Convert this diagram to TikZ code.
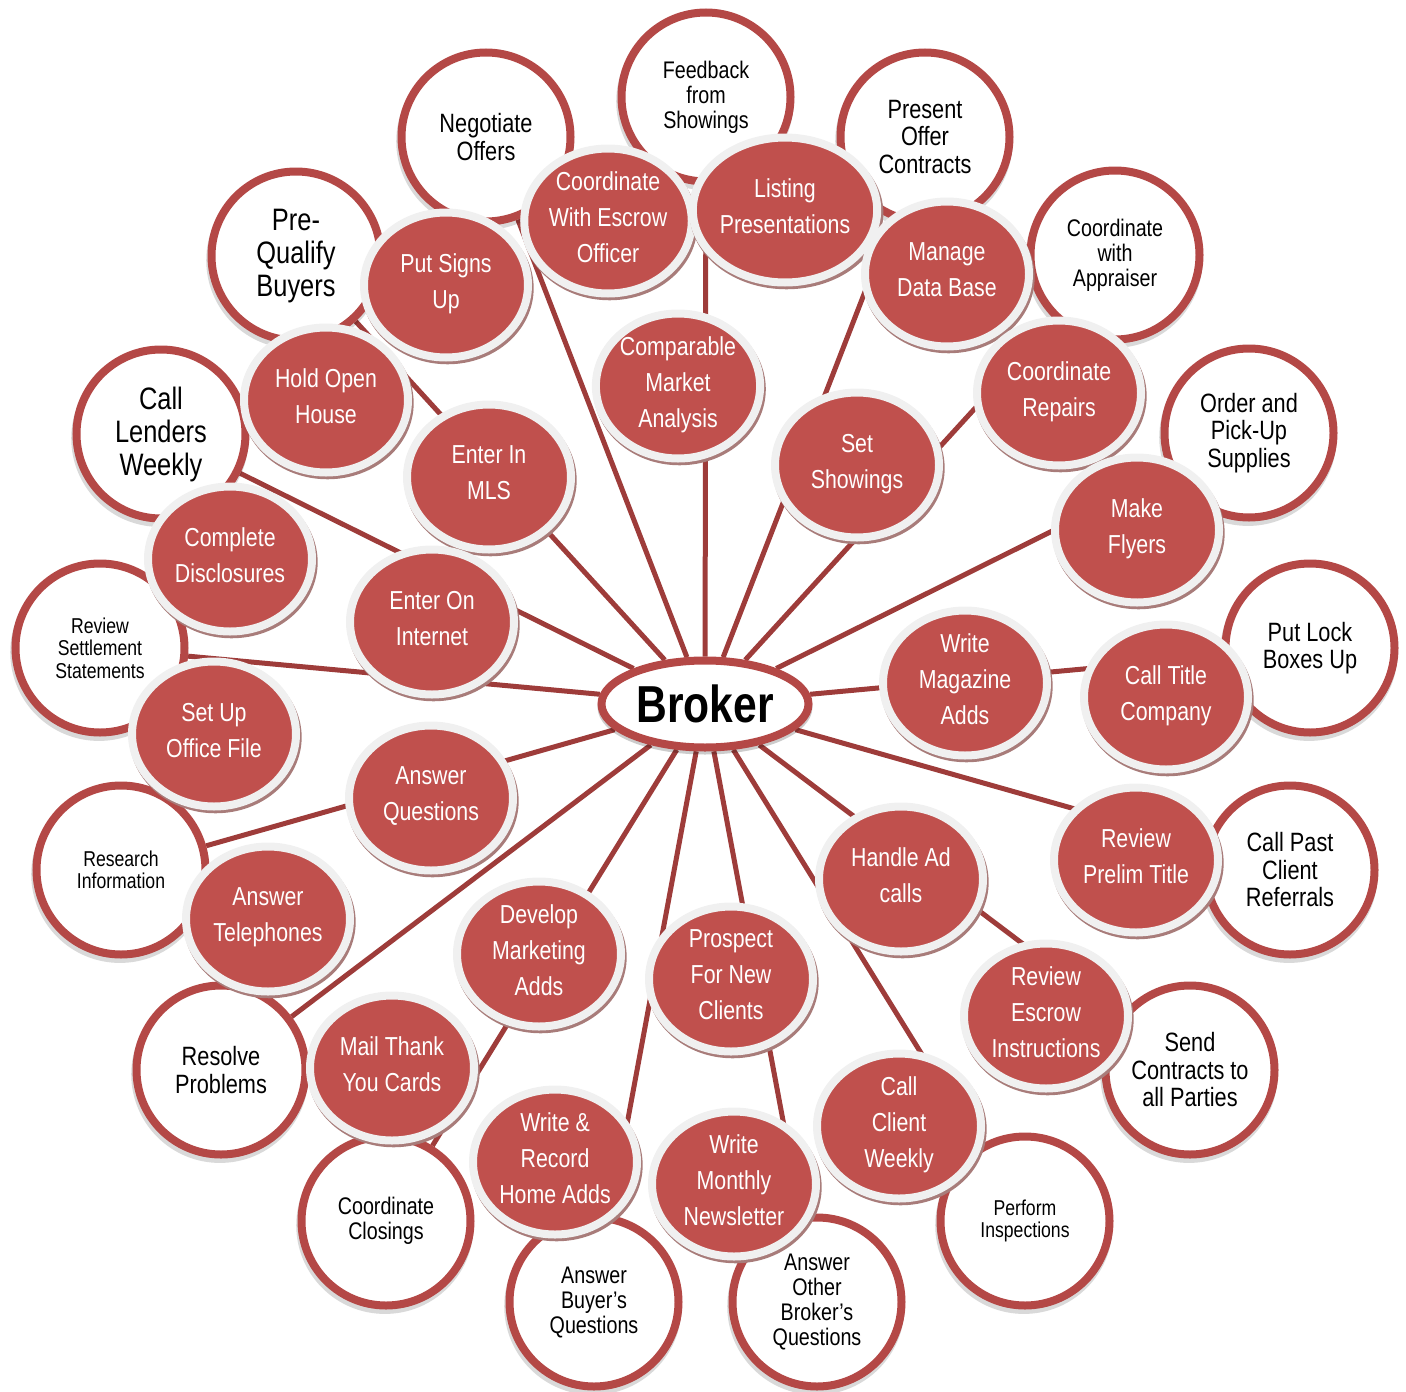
\documentclass[tikz,border=0pt]{standalone}
\usepackage{fontspec}
\setmainfont{Liberation Sans}[FakeStretch=0.82]
\usetikzlibrary{
  shapes.geometric,
  shadows,
  backgrounds
}

\definecolor{spokered}{RGB}{158,60,58}
\definecolor{ringred}{RGB}{180,72,70}
\definecolor{taskred}{RGB}{192,80,77}
\definecolor{taskring}{RGB}{240,240,240}
\definecolor{taskshadow}{RGB}{168,124,122}

\tikzset{
  spoke/.style = {draw=spokered, line width=5pt},
  duty/.style = {circle, draw=ringred, line width=8pt, fill=white,
    minimum size=169pt, inner sep=0pt, align=center,
    drop shadow={shadow xshift=-1pt, shadow yshift=-4pt, shadow scale=1.05,
      opacity=0.15, fill=black}},
  task/.style = {ellipse, draw=taskring, line width=8pt, fill=taskred,
    minimum width=164pt, minimum height=145pt, inner sep=0pt,
    align=center, text=white, text depth=8pt,
    font=\fontsize{26}{36}\selectfont,
    drop shadow={shadow xshift=1.5pt, shadow yshift=-3pt, shadow scale=1.05,
      opacity=1, fill=taskshadow}},
  hub/.style = {ellipse, draw=ringred, line width=8pt, fill=white,
    minimum width=207pt, minimum height=87pt, inner sep=0pt,
    font=\fontsize{52}{52}\selectfont\bfseries,
    drop shadow={shadow xshift=0pt, shadow yshift=-3pt, opacity=0.2,
      fill=black, draw=black, line width=8pt}},
  bigtext/.style = {font=\fontsize{31}{33}\selectfont},
  midtext/.style = {font=\fontsize{26.5}{27.5}\selectfont},
  smalltext/.style = {font=\fontsize{24}{25}\selectfont},
  tinytext/.style = {font=\fontsize{21.5}{22.5}\selectfont}
}

\begin{document}
\begin{tikzpicture}[x=1pt, y=-1pt]
  \useasboundingbox (0,0) rectangle (1406,1392);

  % outer ring
  \node[duty,smalltext] (feedback) at (706,97) {Feedback\\from\\Showings};
  \node[duty,midtext] (negotiate) at (486,137) {Negotiate\\Offers};
  \node[duty,bigtext] (prequalify) at (296,256) {Pre-\\Qualify\\Buyers};
  \node[duty,bigtext] (lenders) at (161,434) {Call\\Lenders\\Weekly};
  \node[duty,tinytext] (settlement) at (100,648) {Review\\Settlement\\Statements};
  \node[duty,tinytext] (research) at (121,870) {Research\\Information};
  \node[duty,midtext] (resolve) at (221,1070) {Resolve\\Problems};
  \node[duty,smalltext] (closings) at (386,1221) {Coordinate\\Closings};
  \node[duty,smalltext] (buyers) at (594,1302) {Answer\\Buyer's\\Questions};
  \node[duty,smalltext] (brokers) at (817,1302) {Answer\\Other\\Broker's\\Questions};
  \node[duty,tinytext] (inspections) at (1025,1221) {Perform\\Inspections};
  \node[duty,midtext] (contracts) at (1190,1070) {Send\\Contracts to\\all Parties};
  \node[duty,midtext] (referrals) at (1290,870) {Call Past\\Client\\Referrals};
  \node[duty,midtext] (lockboxes) at (1310,648) {Put Lock\\Boxes Up};
  \node[duty,midtext] (supplies) at (1249,433) {Order and\\Pick-Up\\Supplies};
  \node[duty,smalltext] (appraiser) at (1115,255) {Coordinate\\with\\Appraiser};
  \node[duty,midtext] (present) at (925,137) {Present\\Offer\\Contracts};

  % inner ring
  \node[task] (escrow) at (608,221) {Coordinate\\With Escrow\\Officer};
  \node[task] (listing) at (785,210) {Listing\\Presentations};
  \node[task] (signs) at (446,285) {Put Signs\\Up};
  \node[task] (database) at (947,274) {Manage\\Data Base};
  \node[task] (comparable) at (678,386) {Comparable\\Market\\Analysis};
  \node[task] (openhouse) at (326,400) {Hold Open\\House};
  \node[task] (repairs) at (1059,393) {Coordinate\\Repairs};
  \node[task] (mls) at (489,477) {Enter In\\MLS};
  \node[task] (showings) at (857,465) {Set\\Showings};
  \node[task] (disclosures) at (230,559) {Complete\\Disclosures};
  \node[task] (flyers) at (1137,530) {Make\\Flyers};
  \node[task] (internet) at (432,622) {Enter On\\Internet};
  \node[task] (magazine) at (965,683) {Write\\Magazine\\Adds};
  \node[task] (title) at (1166,697) {Call Title\\Company};
  \node[task] (officefile) at (214,734) {Set Up\\Office File};
  \node[task] (questions) at (431,798) {Answer\\Questions};
  \node[task] (prelim) at (1136,860) {Review\\Prelim Title};
  \node[task] (adcalls) at (901,879) {Handle Ad\\calls};
  \node[task] (telephones) at (268,919) {Answer\\Telephones};
  \node[task] (marketing) at (539,954) {Develop\\Marketing\\Adds};
  \node[task] (prospect) at (731,979) {Prospect\\For New\\Clients};
  \node[task] (escrowinstr) at (1046,1016) {Review\\Escrow\\Instructions};
  \node[task] (thankyou) at (392,1068) {Mail Thank\\You Cards};
  \node[task] (homeadds) at (555,1162) {Write \&\\Record\\Home Adds};
  \node[task] (newsletter) at (734,1184) {Write\\Monthly\\Newsletter};
  \node[task] (clientweekly) at (899,1126) {Call\\Client\\Weekly};

  \node[hub] (hub) at (705,704) {Broker};

  \begin{scope}[on background layer]
    \draw[spoke] (hub) -- (feedback);
    \draw[spoke] (hub) -- (negotiate);
    \draw[spoke] (hub) -- (prequalify);
    \draw[spoke] (hub) -- (lenders);
    \draw[spoke] (hub) -- (settlement);
    \draw[spoke] (hub) -- (research);
    \draw[spoke] (hub) -- (resolve);
    \draw[spoke] (hub) -- (closings);
    \draw[spoke] (hub) -- (buyers);
    \draw[spoke] (hub) -- (brokers);
    \draw[spoke] (hub) -- (inspections);
    \draw[spoke] (hub) -- (contracts);
    \draw[spoke] (hub) -- (referrals);
    \draw[spoke] (hub) -- (lockboxes);
    \draw[spoke] (hub) -- (supplies);
    \draw[spoke] (hub) -- (appraiser);
    \draw[spoke] (hub) -- (present);
  \end{scope}
\end{tikzpicture}
\end{document}
